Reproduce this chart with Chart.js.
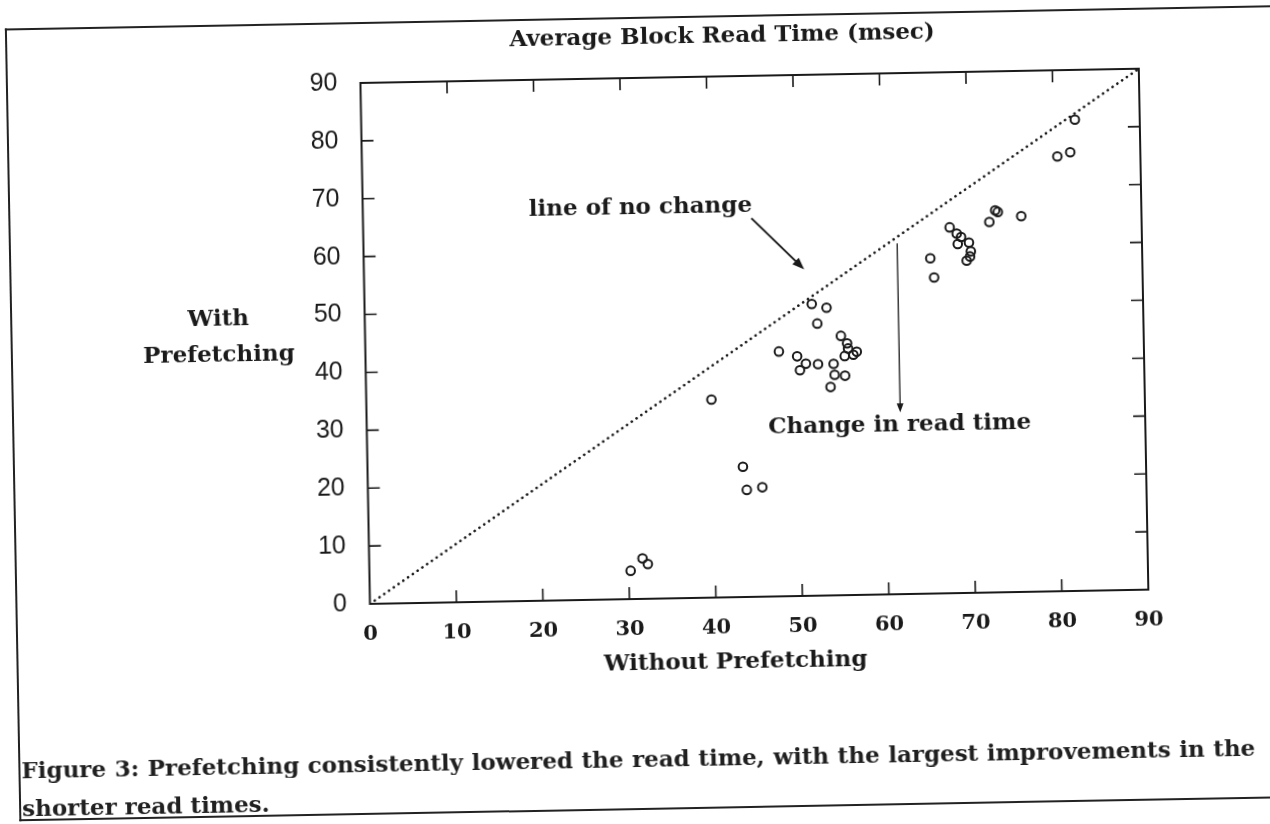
<!DOCTYPE html>
<html>
<head>
<meta charset="utf-8">
<script src="https://cdn.jsdelivr.net/npm/chart.js@4.4.1/dist/chart.umd.min.js"></script>
<style>
  html, body { margin: 0; padding: 0; background: #fff; overflow: hidden; }
  #page { position: absolute; left: 0; top: 0; width: 1270px; height: 824px;
          transform: rotate(-1.05deg); transform-origin: 635px 412px; }
  #frame { position: absolute; left: 12px; top: 17px; width: 1300px; height: 793px;
           border: 2px solid #222; border-right: none; box-sizing: border-box; }
  canvas { position: absolute; left: 0; top: 0; }
  .cap { position: absolute; font-family: "DejaVu Serif", serif; font-weight: bold; font-size: 23px;
         line-height: 23px; color: #202020; }
  #cap1 { left: 15px; top: 747px; width: 1234px; text-align: justify; text-align-last: justify; }
  #cap2 { left: 15px; top: 785px; white-space: nowrap; }
</style>
</head>
<body>
<div id="page">
  <div id="frame"></div>
  <canvas id="scatter" width="1270" height="824"></canvas>
  <div class="cap" id="cap1">Figure 3: Prefetching consistently lowered the read time, with the largest improvements in the</div>
  <div class="cap" id="cap2">shorter read times.</div>
</div>
<script>
// values (msec)
var withoutPf = [30.2, 31.6, 32.2, 39.9, 43.4, 43.8, 45.6, 47.8, 49.9, 50.2,
                 50.9, 52.3, 51.7, 53.4, 52.3, 53.7, 54.1, 54.2, 55.4, 55.4,
                 55.0, 55.7, 55.8, 56.4, 56.8, 65.5, 65.9, 67.8, 68.6, 69.1,
                 68.7, 70.0, 70.2, 70.1, 69.7, 72.4, 73.1, 73.4, 76.1, 80.4,
                 81.9, 82.5];
var withPf = [4.9, 7.0, 6.0, 34.2, 22.5, 18.5, 18.9, 42.3, 41.4, 39.0,
              40.1, 40.0, 50.4, 49.7, 47.0, 36.0, 40.0, 38.1, 37.9, 41.3,
              44.8, 43.5, 42.6, 41.5, 42.0, 57.9, 54.6, 63.2, 62.1, 61.5,
              60.3, 60.5, 59.0, 58.1, 57.4, 64.0, 66.0, 65.7, 64.9, 75.1,
              75.8, 81.4];
var diagX = [0, 90];
var diagY = [0, 90];
var tickValues = [0, 10, 20, 30, 40, 50, 60, 70, 80, 90];

// annotation anchors, in data units
var noChangeLabel = [32.1, 67.5];
var noChangeArrow = [[44.9, 65.4], [50.9, 56.4]];
var changeArrow = [[61.7, 60.6], [61.7, 31.4]];
var changeLabel = [61.6, 29.2];

var FONT = '"DejaVu Serif", serif';
var INK = "#1a1a1a";

function arrow(ctx, x1, y1, x2, y2, w, head) {
  var a = Math.atan2(y2 - y1, x2 - x1);
  ctx.lineWidth = w;
  ctx.beginPath();
  ctx.moveTo(x1, y1);
  ctx.lineTo(x2 - Math.cos(a) * head * 0.6, y2 - Math.sin(a) * head * 0.6);
  ctx.stroke();
  ctx.beginPath();
  ctx.moveTo(x2, y2);
  ctx.lineTo(x2 - head * Math.cos(a) + head * 0.38 * Math.sin(a), y2 - head * Math.sin(a) - head * 0.38 * Math.cos(a));
  ctx.lineTo(x2 - head * Math.cos(a) - head * 0.38 * Math.sin(a), y2 - head * Math.sin(a) + head * 0.38 * Math.cos(a));
  ctx.closePath();
  ctx.fill();
}

var decor = {
  id: "decor",
  afterDraw: function (chart) {
    var ctx = chart.ctx;
    var a = chart.chartArea;
    var xs = chart.scales.x, ys = chart.scales.y;
    ctx.save();
    ctx.strokeStyle = INK;
    ctx.fillStyle = INK;

    // plot box + inward ticks on all four sides
    ctx.lineWidth = 2;
    ctx.strokeRect(a.left, a.top, a.right - a.left, a.bottom - a.top);
    ctx.lineWidth = 1.6;
    ctx.beginPath();
    tickValues.slice(1, -1).forEach(function (v) {
      var px = xs.getPixelForValue(v), py = ys.getPixelForValue(v);
      ctx.moveTo(px, a.bottom); ctx.lineTo(px, a.bottom - 12);
      ctx.moveTo(px, a.top); ctx.lineTo(px, a.top + 12);
      ctx.moveTo(a.left, py); ctx.lineTo(a.left + 12, py);
      ctx.moveTo(a.right, py); ctx.lineTo(a.right - 12, py);
    });
    ctx.stroke();

    // titles
    ctx.font = "bold 23px " + FONT;
    ctx.textAlign = "center";
    ctx.textBaseline = "middle";
    ctx.fillText("Average Block Read Time (msec)", 729, 38);
    ctx.fillText("With", 220, 312);
    ctx.fillText("Prefetching", 220, 348);
    ctx.fillText("Without Prefetching", 731, 664);

    // annotations
    ctx.fillText("line of no change", xs.getPixelForValue(noChangeLabel[0]), ys.getPixelForValue(noChangeLabel[1]));
    ctx.fillText("Change in read time", xs.getPixelForValue(changeLabel[0]), ys.getPixelForValue(changeLabel[1]));
    arrow(ctx, xs.getPixelForValue(noChangeArrow[0][0]), ys.getPixelForValue(noChangeArrow[0][1]),
               xs.getPixelForValue(noChangeArrow[1][0]), ys.getPixelForValue(noChangeArrow[1][1]), 2, 12);
    arrow(ctx, xs.getPixelForValue(changeArrow[0][0]), ys.getPixelForValue(changeArrow[0][1]),
               xs.getPixelForValue(changeArrow[1][0]), ys.getPixelForValue(changeArrow[1][1]), 1.3, 9);
    ctx.restore();
  }
};

var ctx = document.getElementById("scatter").getContext("2d");
new Chart(ctx, {
  type: "scatter",
  data: {
    datasets: [
      {
        label: "no change",
        type: "line",
        data: diagX.map(function (x, i) { return { x: x, y: diagY[i] }; }),
        borderColor: INK,
        borderWidth: 2.6,
        borderDash: [0.1, 5.7],
        borderCapStyle: "round",
        pointRadius: 0,
        fill: false,
      },
      {
        label: "disks",
        data: withoutPf.map(function (x, i) { return { x: x, y: withPf[i] }; }),
        pointStyle: "circle",
        pointRadius: 4.3,
        borderColor: INK,
        borderWidth: 2,
        backgroundColor: "rgba(255,255,255,0)",
      },
    ],
  },
  options: {
    responsive: false,
    animation: false,
    devicePixelRatio: 1,
    layout: { padding: { left: 0, right: 125, top: 78, bottom: 155 } },
    plugins: { legend: { display: false }, tooltip: { enabled: false } },
    scales: {
      x: {
        type: "linear", min: 0, max: 90,
        afterFit: function (s) { s.height = 70; },
        grid: { display: false },
        border: { display: false },
        ticks: { stepSize: 10, padding: 10, color: INK, font: { family: FONT, size: 21, weight: "bold" } },
      },
      y: {
        type: "linear", min: 0, max: 90,
        afterFit: function (s) { s.width = 366.5; },
        grid: { display: false },
        border: { display: false },
        ticks: { stepSize: 10, padding: 15, color: INK, font: { family: '"Liberation Sans", Arial, sans-serif', size: 25 } },
      },
    },
  },
  plugins: [decor],
});
</script>
</body>
</html>
